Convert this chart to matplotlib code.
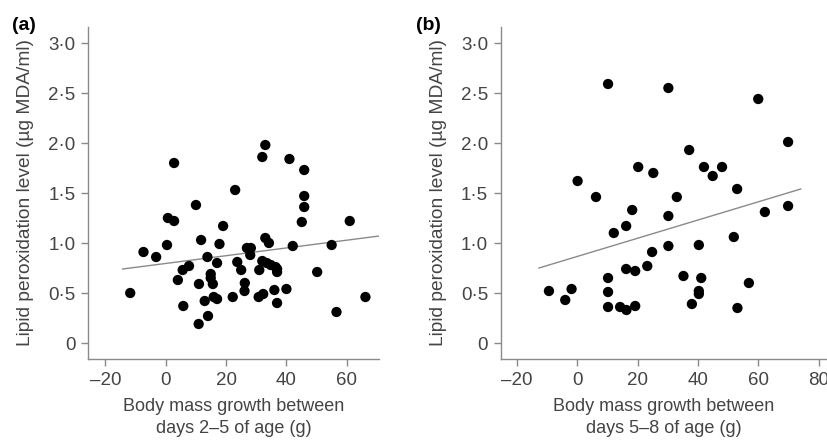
import matplotlib.pyplot as plt

plt.rcParams['font.family'] = ['Liberation Sans', 'DejaVu Sans']

# panel (a): growth days 2-5
xa = [2.75, 33, 32, 41, 45.9, 23, 10, 45.9, 45.9, 0.7, 2.75, 45.1, 61, 19,
      11.7, 33, 34.2, 0.4, 17.8, 42.1, 55, 26.9, 28.2, -7.4, -3.2, 13.8, 28,
      23.7, 17, 32, 33.5, 34.8, 36.4, 36.9, 36.9, 7.7, 5.6, 25, 31, 14.9, 14.9,
      4, 11, 15.6, 26.2, 50.2, -11.8, 26.1, 36, 40, 32.3, 30.8, 22.2, 15.9, 17,
      12.9, 66.2, 5.8, 36.9, 56.6, 14, 10.9]
ya = [1.80, 1.98, 1.86, 1.84, 1.73, 1.53, 1.38, 1.47, 1.36, 1.25, 1.22, 1.21, 1.22, 1.17,
      1.03, 1.05, 1.00, 0.98, 0.99, 0.97, 0.98, 0.95, 0.95, 0.91, 0.86, 0.86, 0.88,
      0.81, 0.80, 0.82, 0.80, 0.78, 0.76, 0.74, 0.71, 0.77, 0.73, 0.73, 0.73, 0.69, 0.65,
      0.63, 0.59, 0.59, 0.60, 0.71, 0.50, 0.52, 0.53, 0.54, 0.49, 0.46, 0.46, 0.46, 0.44,
      0.42, 0.46, 0.37, 0.40, 0.31, 0.27, 0.19]
line_a_x = [-14.3, 70.8]
line_a_y = [0.74, 1.07]

# panel (b): growth days 5-8
xb = [10.2, 30.2, 60, 69.9, 37.1, 20.2, 25.2, 42, 48, 44.9, 0.1, 6.2, 33, 53,
      18.2, 62.2, 69.9, 30.2, 12.1, 16.2, 51.9, 30.2, 40.3, 24.8, 23.2, 16.2,
      19.2, 10.2, 35.2, 41.1, 56.9, -9.4, -1.9, -4, 10.2, 40.3, 40.3, 10.2,
      14.2, 16.3, 19.2, 38, 53.1]
yb = [2.59, 2.55, 2.44, 2.01, 1.93, 1.76, 1.70, 1.76, 1.76, 1.67, 1.62, 1.46, 1.46, 1.54,
      1.33, 1.31, 1.37, 1.27, 1.10, 1.17, 1.06, 0.97, 0.98, 0.91, 0.77, 0.74,
      0.72, 0.65, 0.67, 0.65, 0.60, 0.52, 0.54, 0.43, 0.51, 0.52, 0.49, 0.36,
      0.36, 0.33, 0.37, 0.39, 0.35]
line_b_x = [-12.7, 74.1]
line_b_y = [0.75, 1.54]

yticks = [0, 0.5, 1.0, 1.5, 2.0, 2.5, 3.0]
ytick_labels = ['0', '0·5', '1·0', '1·5', '2·0', '2·5', '3·0']
xticks_a = [-20, 0, 20, 40, 60]
xticks_b = [-20, 0, 20, 40, 60, 80]

ylabel = 'Lipid peroxidation level (µg MDA/ml)'
xlabel_a = 'Body mass growth between\ndays 2–5 of age (g)'
xlabel_b = 'Body mass growth between\ndays 5–8 of age (g)'

grey = '#8a8a8a'
txt = '#444444'

fig = plt.figure(figsize=(8.27, 4.4), dpi=100)
ax_a = fig.add_axes([88/827, 1-359/440, (379-88)/827, (359-27)/440])
ax_b = fig.add_axes([500.7/827, 1-359/440, (827-500.7)/827, (359-27)/440])

panels = [
    (ax_a, xa, ya, line_a_x, line_a_y, xticks_a, xlabel_a, (-25.8, 70.7)),
    (ax_b, xb, yb, line_b_x, line_b_y, xticks_b, xlabel_b, (-25.4, 82.8)),
]

for ax, x, y, lx, ly, xt, xl, xlim in panels:
    ax.plot(lx, ly, color=grey, lw=1.0, zorder=1)
    ax.scatter(x, y, s=55, color='black', edgecolors='none', zorder=2)
    ax.set_xlim(*xlim)
    ax.set_ylim(-0.16, 3.16)
    ax.set_yticks(yticks)
    ax.set_yticklabels(ytick_labels)
    ax.set_xticks(xt)
    ax.set_xticklabels([str(v).replace('-', '–') for v in xt])
    for s in ['top', 'right']:
        ax.spines[s].set_visible(False)
    for s in ['left', 'bottom']:
        ax.spines[s].set_color(grey)
        ax.spines[s].set_linewidth(1.0)
    ax.tick_params(colors=grey, labelcolor=txt, labelsize=13.5, length=5, width=1, pad=4)
    ax.set_ylabel(ylabel, fontsize=13.8, color=txt, labelpad=10)
    ax.set_xlabel(xl, fontsize=13, color=txt, labelpad=7, linespacing=1.4)
    ax.set_facecolor('none')

fig.text(12/827, 1-34/440, '(a)', fontsize=14, fontweight='bold', va='bottom')
fig.text(416/827, 1-34/440, '(b)', fontsize=14, fontweight='bold', va='bottom')

fig.savefig('out.png', dpi=100)
